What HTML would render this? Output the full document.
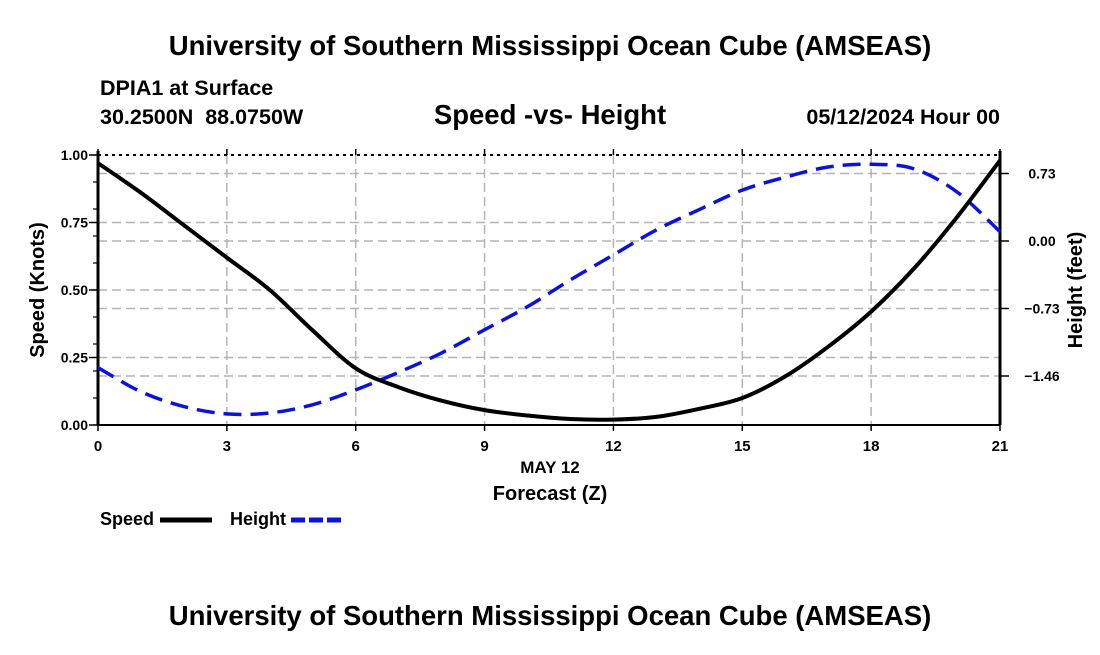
<!DOCTYPE html>
<html><head><meta charset="utf-8"><style>
body{margin:0;background:#fff;}
svg text{font-family:"Liberation Sans",Arial,sans-serif;font-weight:bold;fill:#000;white-space:pre;}
</style></head><body>
<svg width="1100" height="650" viewBox="0 0 1100 650" xmlns="http://www.w3.org/2000/svg">
<text x="550" y="55" font-size="27.5" text-anchor="middle">University of Southern Mississippi Ocean Cube (AMSEAS)</text>
<text x="100" y="95" font-size="21.5">DPIA1 at Surface</text>
<text x="100" y="124" font-size="21.5" xml:space="preserve">30.2500N  88.0750W</text>
<text x="550" y="124" font-size="27.5" text-anchor="middle">Speed -vs- Height</text>
<text x="1000" y="124" font-size="21.5" text-anchor="end">05/12/2024 Hour 00</text>
<g id="grid"></g>
<g id="axes"></g>
<path id="height-line" fill="none" stroke="#0a14d8" stroke-width="3.5" stroke-dasharray="18,9"/>
<path id="speed-line" fill="none" stroke="#000" stroke-width="4"/>
<text x="550" y="473" font-size="17" text-anchor="middle">MAY 12</text>
<text x="550" y="500" font-size="20" text-anchor="middle">Forecast (Z)</text>
<text x="44" y="290" font-size="20" text-anchor="middle" transform="rotate(-90 44 290)">Speed (Knots)</text>
<text x="1082" y="290" font-size="20" text-anchor="middle" transform="rotate(-90 1082 290)">Height (feet)</text>
<g>
<text x="100" y="525" font-size="18">Speed</text>
<line x1="160" y1="520" x2="212" y2="520" stroke="#000" stroke-width="5"/>
<text x="230" y="525" font-size="18">Height</text>
<line x1="291" y1="520" x2="343" y2="520" stroke="#0a14d8" stroke-width="5" stroke-dasharray="14,4"/>
</g>
<text x="550" y="625" font-size="27.5" text-anchor="middle">University of Southern Mississippi Ocean Cube (AMSEAS)</text>
</svg>
<script>
const hours=[0,1,2,3,4,5,6,7,8,9,10,11,12,13,14,15,16,17,18,19,20,21];
const speed=[0.97,0.86,0.74,0.62,0.50,0.35,0.21,0.14,0.09,0.055,0.035,0.022,0.02,0.03,0.06,0.10,0.18,0.29,0.42,0.58,0.77,0.98];
const heightFt=[-1.37,-1.63,-1.79,-1.87,-1.86,-1.77,-1.61,-1.42,-1.21,-0.96,-0.71,-0.42,-0.15,0.12,0.34,0.55,0.69,0.80,0.83,0.78,0.53,0.10];
const xTicks=[0,3,6,9,12,15,18,21];
const leftTicks=[0,0.25,0.5,0.75,1.0];
const leftTickLabels=["0.00","0.25","0.50","0.75","1.00"];
const rightTicks=[-1.46,-0.73,0,0.73];
const rightTickLabels=["\u22121.46","\u22120.73","0.00","0.73"];
const X0=98,X1=1000,Y0=425,Y1=155;
const xs=h=>X0+(h-0)/21*(X1-X0);
const ys=v=>Y0-v*(Y0-Y1);
const yr=v=>241-v*(67.5/0.73);
const NS="http://www.w3.org/2000/svg";
function mk(tag,attrs,parent){const e=document.createElementNS(NS,tag);for(const k in attrs)e.setAttribute(k,attrs[k]);parent.appendChild(e);return e;}
const grid=document.getElementById('grid'),axes=document.getElementById('axes');
const gs={stroke:'#b4b4b4','stroke-width':1.5,'stroke-dasharray':'9,5'};
xTicks.forEach(h=>{if(h>0&&h<21){const l=mk('line',Object.assign({x1:xs(h),x2:xs(h),y1:Y1,y2:Y0},gs),grid);

}});
leftTicks.forEach(v=>{if(v>0&&v<1){const l=mk('line',Object.assign({x1:X0,x2:X1,y1:ys(v),y2:ys(v)},gs),grid);

}});
rightTicks.forEach(v=>{const l=mk('line',Object.assign({x1:X0,x2:X1,y1:yr(v),y2:yr(v)},gs),grid);

});
mk('line',{x1:X0,x2:X0,y1:Y1-4,y2:Y0,stroke:'#000','stroke-width':3},axes);
mk('line',{x1:X1,x2:X1,y1:Y1-4,y2:Y0,stroke:'#000','stroke-width':3},axes);
mk('line',{x1:X0,x2:X1,y1:Y0,y2:Y0,stroke:'#000','stroke-width':2},axes);
mk('line',{x1:X0,x2:X1,y1:Y1,y2:Y1,stroke:'#000','stroke-width':2,'stroke-dasharray':'3,4'},axes);
xTicks.forEach(h=>{mk('line',{x1:xs(h),x2:xs(h),y1:Y0,y2:Y0+6,stroke:'#000','stroke-width':1.5},axes);
mk('line',{x1:xs(h),x2:xs(h),y1:Y1,y2:Y1-6,stroke:'#000','stroke-width':1.5},axes);
const t=mk('text',{x:xs(h),y:Y0+26,'font-size':15,'text-anchor':'middle'},axes);t.textContent=h;

});
for(let v=0;v<=1.0001;v+=0.1){mk('line',{x1:X0-5,x2:X0,y1:ys(v),y2:ys(v),stroke:'#000','stroke-width':1.2},axes);}
leftTicks.forEach((v,i)=>{mk('line',{x1:X0-9,x2:X0,y1:ys(v),y2:ys(v),stroke:'#000','stroke-width':1.5},axes);
const t=mk('text',{x:X0-10,y:ys(v)+5,'font-size':14,'text-anchor':'end'},axes);t.textContent=leftTickLabels[i];

});
rightTicks.forEach((v,i)=>{mk('line',{x1:X1,x2:X1+9,y1:yr(v),y2:yr(v),stroke:'#000','stroke-width':1.5},axes);
const t=mk('text',{x:X1+42,y:yr(v)+5,'font-size':14,'text-anchor':'middle'},axes);t.textContent=rightTickLabels[i];

});
function smooth(pts){let d='M'+pts[0][0]+','+pts[0][1];
for(let i=0;i<pts.length-1;i++){const p0=pts[Math.max(0,i-1)],p1=pts[i],p2=pts[i+1],p3=pts[Math.min(pts.length-1,i+2)];
const c1=[p1[0]+(p2[0]-p0[0])/6,p1[1]+(p2[1]-p0[1])/6],c2=[p2[0]-(p3[0]-p1[0])/6,p2[1]-(p3[1]-p1[1])/6];
d+=' C'+c1+' '+c2+' '+p2;}return d;}
document.getElementById('speed-line').setAttribute('d',smooth(hours.map((h,i)=>[xs(h),ys(speed[i])])));
document.getElementById('height-line').setAttribute('d',smooth(hours.map((h,i)=>[xs(h),yr(heightFt[i])])));
</script>
</body></html>
